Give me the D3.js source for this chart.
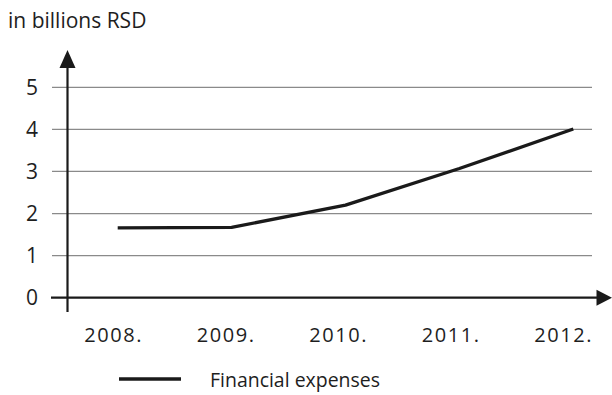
<!DOCTYPE html>
<html>
<head>
<meta charset="utf-8">
<script src="https://cdn.jsdelivr.net/npm/d3@7"></script>
<style>
  html, body { margin: 0; padding: 0; background: #fff; }
  svg { display: block; font-family: "Open Sans", Lato, sans-serif; }
</style>
</head>
<body>
<svg id="chart" width="612" height="395"></svg>
<script>
// Financial expenses, in billions RSD
const years = ["2008.", "2009.", "2010.", "2011.", "2012."];
const expenses = [1.66, 1.67, 2.2, 3.07, 4.01];
const yTicks = [0, 1, 2, 3, 4, 5];
const unitLabel = "in billions RSD";
const seriesName = "Financial expenses";

const svg = d3.select("#chart");
const axisX = 67.5;

const x = d3.scalePoint().domain(years).range([117.7, 573.3]);
const y = d3.scaleLinear().domain([0, 5]).range([297.7, 87.3]);

// horizontal gridlines
svg.append("g").selectAll("line")
  .data(yTicks.filter(d => d > 0))
  .join("line")
  .attr("x1", 52).attr("x2", 592)
  .attr("y1", d => y(d)).attr("y2", d => y(d))
  .attr("stroke", "#8a8a8a").attr("stroke-width", 1.3);

// y tick labels
svg.append("g").selectAll("text")
  .data(yTicks)
  .join("text")
  .attr("x", 32).attr("y", d => y(d))
  .attr("dy", "0.36em")
  .attr("text-anchor", "middle")
  .attr("font-size", 21)
  .attr("fill", "#1e1e1e")
  .text(d => d);

// axes with arrowheads
const axes = svg.append("g").attr("stroke", "#1a1a1a").attr("fill", "#1a1a1a");
axes.append("line")
  .attr("x1", axisX).attr("x2", axisX)
  .attr("y1", 312).attr("y2", 62)
  .attr("stroke-width", 2.2);
axes.append("path")
  .attr("d", `M${axisX},50 L${axisX - 8},68 L${axisX + 8},68 Z`)
  .attr("stroke", "none");
axes.append("line")
  .attr("x1", 51).attr("x2", 600)
  .attr("y1", y(0)).attr("y2", y(0))
  .attr("stroke-width", 2.2);
axes.append("path")
  .attr("d", `M612,${y(0)} L596.5,${y(0) - 8} L596.5,${y(0) + 8} Z`)
  .attr("stroke", "none");

// x category labels
svg.append("g").selectAll("text")
  .data(years)
  .join("text")
  .attr("x", (d, i) => x(d) - 4 - i * 1.4)
  .attr("y", 342)
  .attr("text-anchor", "middle")
  .attr("font-size", 20)
  .attr("letter-spacing", 1.6)
  .attr("fill", "#1e1e1e")
  .text(d => d);

// series line
const line = d3.line()
  .x((d, i) => x(years[i]))
  .y(d => y(d));
svg.append("path")
  .datum(expenses)
  .attr("d", line)
  .attr("fill", "none")
  .attr("stroke", "#1a1a1a")
  .attr("stroke-width", 3.3)
  .attr("stroke-linejoin", "round");

// unit label
svg.append("text")
  .attr("x", 8).attr("y", 28)
  .attr("font-size", 21)
  .attr("fill", "#1e1e1e")
  .text(unitLabel);

// legend
svg.append("line")
  .attr("x1", 119).attr("x2", 181)
  .attr("y1", 379).attr("y2", 379)
  .attr("stroke", "#1a1a1a").attr("stroke-width", 3.3);
svg.append("text")
  .attr("x", 210).attr("y", 387)
  .attr("font-size", 20)
  .attr("textLength", 170)
  .attr("lengthAdjust", "spacingAndGlyphs")
  .attr("fill", "#1e1e1e")
  .text(seriesName);
</script>
</body>
</html>
